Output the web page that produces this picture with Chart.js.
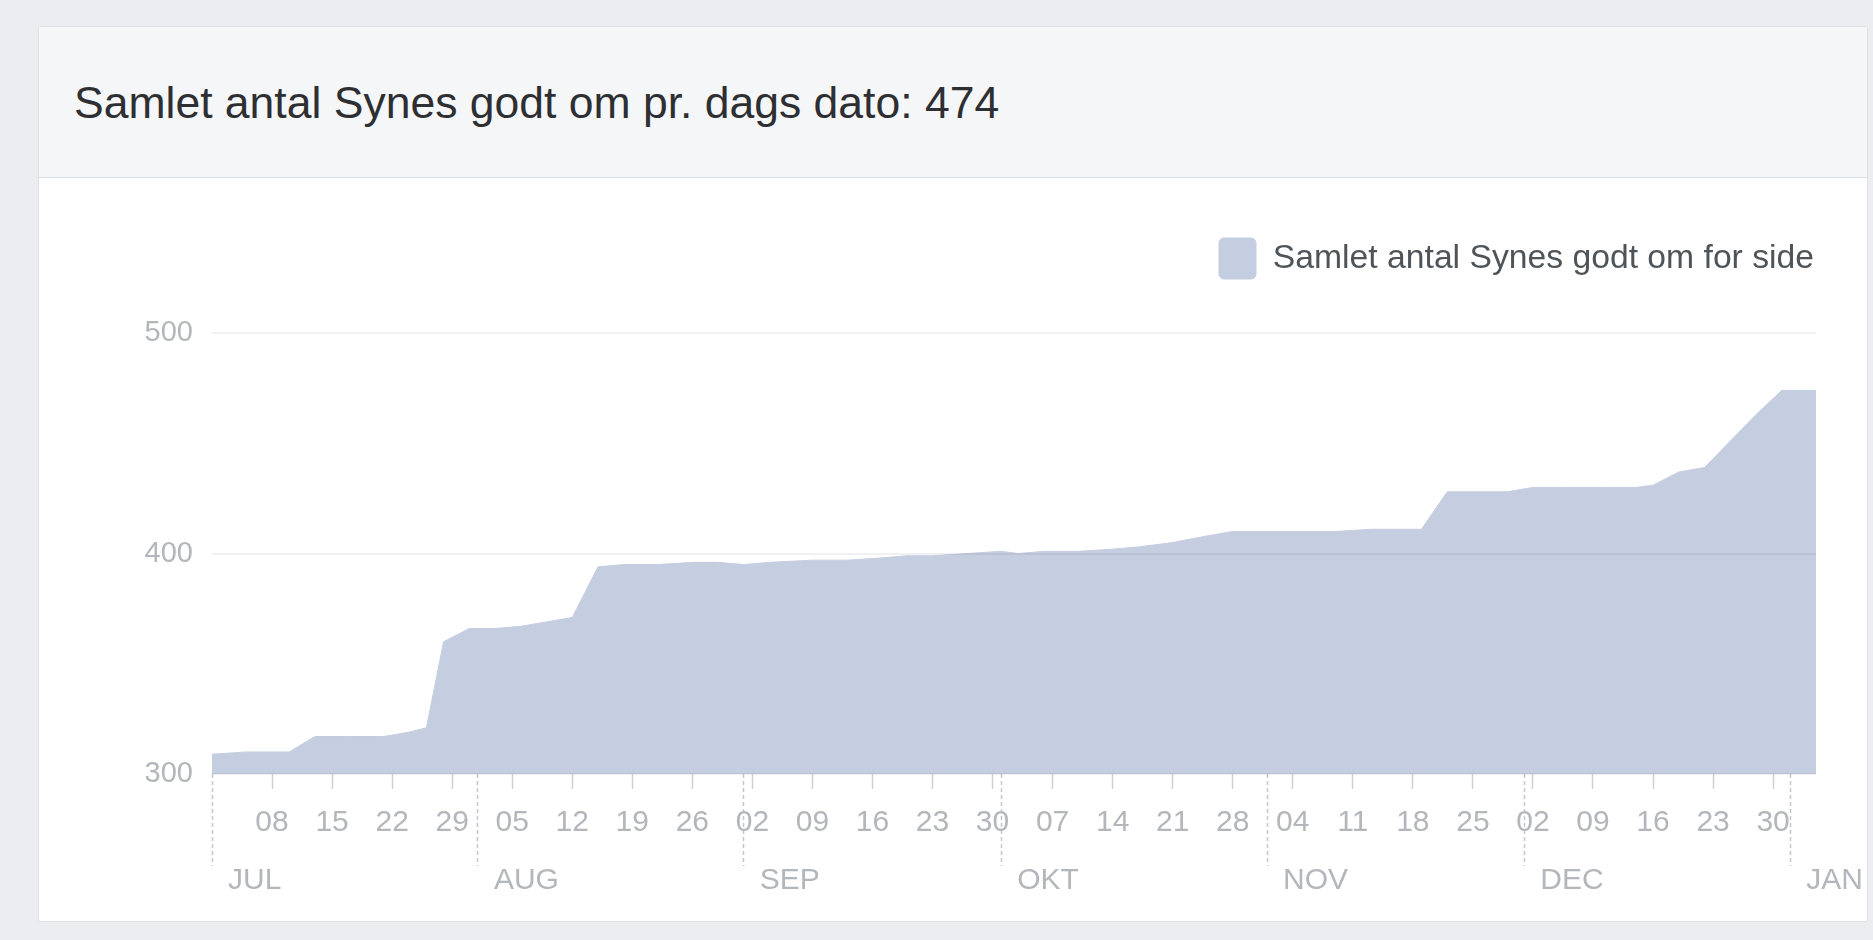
<!DOCTYPE html>
<html lang="da">
<head>
<meta charset="utf-8">
<title>Synes godt om</title>
<script src="https://cdn.jsdelivr.net/npm/chart.js@4.4.1/dist/chart.umd.min.js"></script>
<style>
  html, body { margin: 0; padding: 0; }
  body {
    width: 1873px; height: 940px; overflow: hidden;
    background: #ebedf0;
    font-family: "Liberation Sans", Arial, sans-serif;
  }
  .card {
    position: absolute; left: 38px; top: 26px;
    width: 1828px; height: 894px;
    background: #fff; border: 1px solid #dfe2e6; border-radius: 3px;
  }
  .card-header {
    position: absolute; left: 0; top: 0; right: 0; height: 150px;
    background: #f5f6f8; border-bottom: 1px solid #dcdfe3;
  }
  .card-header h1 {
    position: absolute; left: 35px; top: 54px; margin: 0;
    font-size: 44.5px; line-height: 44px; font-weight: normal; color: #2d2f32;
    white-space: nowrap;
  }
  .chart-box { position: absolute; left: 0; top: 151px; width: 1828px; height: 743px; }
</style>
</head>
<body>
<div class="card">
  <div class="card-header"><h1>Samlet antal Synes godt om pr. dags dato: 474</h1></div>
  <div class="chart-box"><canvas id="likesChart"></canvas></div>
</div>

<script>
// ---- data ----
const startDate = "2013-07-01";
const lastDate = "2014-01-04";
const seriesLabel = "Samlet antal Synes godt om for side";

const dates = [
  "2013-07-01", "2013-07-05", "2013-07-10", "2013-07-13", "2013-07-17", "2013-07-21",
  "2013-07-24", "2013-07-26", "2013-07-28", "2013-07-31", "2013-08-03", "2013-08-06",
  "2013-08-09", "2013-08-12", "2013-08-15", "2013-08-18", "2013-08-22", "2013-08-26",
  "2013-08-29", "2013-09-01", "2013-09-04", "2013-09-09", "2013-09-13", "2013-09-17",
  "2013-09-20", "2013-09-23", "2013-09-27", "2013-10-01", "2013-10-03", "2013-10-06",
  "2013-10-10", "2013-10-14", "2013-10-17", "2013-10-21", "2013-10-25", "2013-10-28",
  "2013-11-01", "2013-11-05", "2013-11-09", "2013-11-13", "2013-11-19", "2013-11-22",
  "2013-11-26", "2013-11-29", "2013-12-02", "2013-12-06", "2013-12-10", "2013-12-14",
  "2013-12-16", "2013-12-19", "2013-12-22", "2013-12-28", "2013-12-31", "2014-01-04"
];
const likes = [
  309, 310, 310, 317, 317, 317,
  319, 321, 360, 366, 366, 367,
  369, 371, 394, 395, 395, 396,
  396, 395, 396, 397, 397, 398,
  399, 399, 400, 401, 400, 401,
  401, 402, 403, 405, 408, 410,
  410, 410, 410, 411, 411, 428,
  428, 428, 430, 430, 430, 430,
  431, 437, 439, 463, 474, 474
];

const weekTickDates = [
  "2013-07-08", "2013-07-15", "2013-07-22", "2013-07-29", "2013-08-05", "2013-08-12",
  "2013-08-19", "2013-08-26", "2013-09-02", "2013-09-09", "2013-09-16", "2013-09-23",
  "2013-09-30", "2013-10-07", "2013-10-14", "2013-10-21", "2013-10-28", "2013-11-04",
  "2013-11-11", "2013-11-18", "2013-11-25", "2013-12-02", "2013-12-09", "2013-12-16",
  "2013-12-23", "2013-12-30"
];
const weekTickLabels = [
  "08", "15", "22", "29", "05", "12", "19", "26", "02", "09", "16", "23", "30",
  "07", "14", "21", "28", "04", "11", "18", "25", "02", "09", "16", "23", "30"
];
const monthTickDates = ["2013-07-01", "2013-08-01", "2013-09-01", "2013-10-01", "2013-11-01", "2013-12-01", "2014-01-01"];
const monthTickLabels = ["JUL", "AUG", "SEP", "OKT", "NOV", "DEC", "JAN"];
const yTickValues = [300, 400, 500];

// ---- helpers ----
function dayOf(d) {
  return (Date.parse(d) - Date.parse(startDate)) / 86400000;
}

const weekDays = weekTickDates.map(dayOf);
const monthDays = monthTickDates.map(dayOf);
const isMonthStart = v => monthDays.includes(v);

const FONT = '"Liberation Sans", Arial, sans-serif';
const tickGray = "#b3b6bb";
const areaColor = "#c5cde0";
Chart.defaults.font.family = FONT;

// ---- chart ----
new Chart(document.getElementById("likesChart"), {
  type: "line",
  data: {
    datasets: [{
      label: seriesLabel,
      data: dates.map((d, i) => ({ x: dayOf(d), y: likes[i] })),
      backgroundColor: areaColor,
      borderColor: areaColor,
      borderWidth: 1,
      pointRadius: 0,
      fill: "start",
      tension: 0
    }]
  },
  options: {
    responsive: true,
    maintainAspectRatio: false,
    animation: false,
    layout: { padding: { left: 104, right: 51, top: 58, bottom: 0 } },
    plugins: {
      legend: {
        align: "end",
        labels: {
          boxWidth: 37, boxHeight: 41, padding: 2,
          useBorderRadius: true, borderRadius: 5,
          color: "#4f5459",
          font: { size: 33.7 }
        }
      },
      tooltip: { enabled: false }
    },
    scales: {
      // weekly ticks + long dashed marks at month starts
      x: {
        type: "linear", position: "bottom", weight: 0,
        min: 0, max: dayOf(lastDate),
        afterBuildTicks: s => {
          s.ticks = monthDays.concat(weekDays).sort((a, b) => a - b).map(v => ({ value: v }));
        },
        afterFit: s => { s.height = 66; s.paddingLeft = 0; s.paddingRight = 0; },
        ticks: {
          autoSkip: false, maxRotation: 0, padding: -58,
          color: tickGray, font: { size: 30, lineHeight: 1 },
          callback: v => {
            const i = weekDays.indexOf(v);
            return i < 0 ? "" : weekTickLabels[i];
          }
        },
        grid: {
          drawOnChartArea: false, tickLength: 92, tickWidth: 1.5,
          tickColor: c => isMonthStart(c.tick.value) ? "#c3c6cb" : "#cdd0d4",
          tickBorderDash: c => isMonthStart(c.tick.value) ? [4, 3] : [15, 200]
        },
        border: { display: false }
      },
      // month names
      xm: {
        type: "linear", position: "bottom", weight: 1,
        min: 0, max: dayOf(lastDate),
        afterBuildTicks: s => { s.ticks = monthDays.map(v => ({ value: v })); },
        afterFit: s => { s.height = 81; s.paddingLeft = 0; s.paddingRight = 0; },
        ticks: {
          autoSkip: false, maxRotation: 0, align: "start", labelOffset: 16, padding: 26,
          color: tickGray, font: { size: 30, lineHeight: 1 },
          callback: (v, i) => monthTickLabels[i]
        },
        grid: { display: false, drawOnChartArea: false, drawTicks: false },
        border: { display: false }
      },
      y: {
        min: 300, max: 520,
        afterBuildTicks: s => { s.ticks = yTickValues.map(v => ({ value: v })); },
        afterFit: s => { s.width = 69; s.paddingTop = 0; s.paddingBottom = 0; },
        ticks: { padding: 19, color: tickGray, font: { size: 29 } },
        grid: { color: "rgba(0,0,0,0.055)", lineWidth: 2, drawTicks: false, z: 1 },
        border: { display: false }
      }
    }
  }
});
</script>
</body>
</html>
